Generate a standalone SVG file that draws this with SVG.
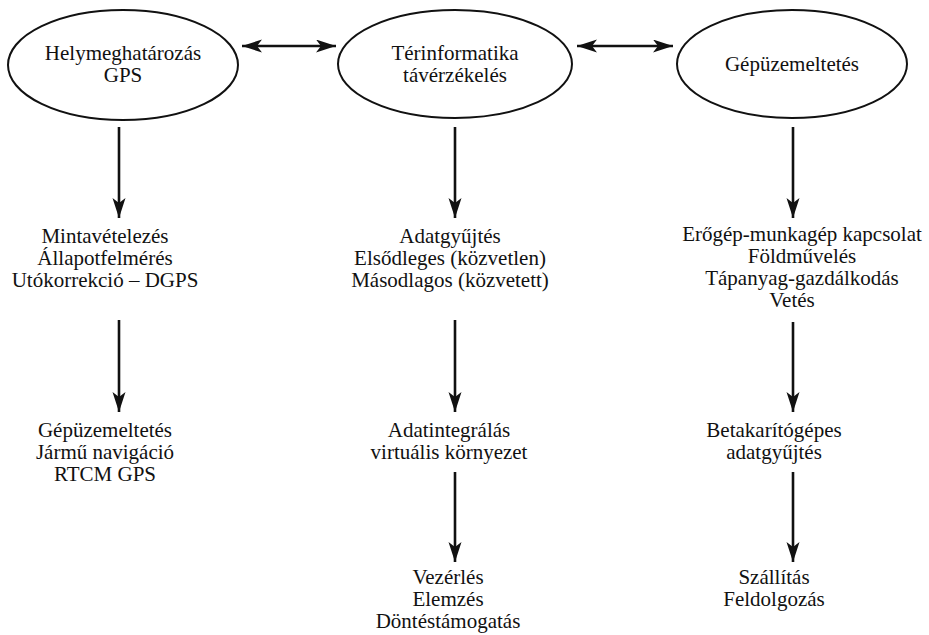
<svg xmlns="http://www.w3.org/2000/svg" width="929" height="635" viewBox="0 0 929 635">
<defs>
<style>
.n ellipse{fill:#fff;stroke:#111;stroke-width:2}
.t text{font-family:'Liberation Serif','DejaVu Serif','Times New Roman',Times,serif;font-size:21px;fill:#111;text-anchor:middle}
.c line{stroke:#111;stroke-width:2.6;fill:none}
</style>
<marker id="ah" markerUnits="userSpaceOnUse" markerWidth="22" markerHeight="14" refX="20" refY="6.5" orient="auto-start-reverse">
<path d="M0,0 L20,6.5 L0,13 L5,6.5 Z" fill="#111"/>
</marker>
</defs>
<rect width="929" height="635" fill="#fff"/>
<g class="c" id="connectors">
<line x1="242" y1="46" x2="336" y2="46" marker-start="url(#ah)" marker-end="url(#ah)"/>
<line x1="577" y1="46" x2="673" y2="46" marker-start="url(#ah)" marker-end="url(#ah)"/>
<line x1="119" y1="127" x2="119" y2="218" marker-end="url(#ah)"/>
<line x1="119" y1="320" x2="119" y2="412" marker-end="url(#ah)"/>
<line x1="455" y1="127" x2="455" y2="218" marker-end="url(#ah)"/>
<line x1="455" y1="320" x2="455" y2="412" marker-end="url(#ah)"/>
<line x1="455" y1="472" x2="455" y2="562" marker-end="url(#ah)"/>
<line x1="793" y1="127" x2="793" y2="218" marker-end="url(#ah)"/>
<line x1="793" y1="322" x2="793" y2="412" marker-end="url(#ah)"/>
<line x1="793" y1="472" x2="793" y2="562" marker-end="url(#ah)"/>
</g>
<g class="n t" id="n-helymeghatarozas">
<ellipse cx="123" cy="65" rx="115" ry="55"/>
<text x="123" y="60">Helymeghatározás</text>
<text x="123" y="82">GPS</text>
</g>
<g class="n t" id="n-terinformatika">
<ellipse cx="455" cy="64" rx="117" ry="54"/>
<text x="455" y="60">Térinformatika</text>
<text x="455" y="82">távérzékelés</text>
</g>
<g class="n t" id="n-gepuzemeltetes">
<ellipse cx="792" cy="64" rx="115" ry="54"/>
<text x="792" y="71">Gépüzemeltetés</text>
</g>
<g class="t" id="n-mintavetelezes">
<text x="105" y="243">Mintavételezés</text>
<text x="105" y="265">Állapotfelmérés</text>
<text x="105" y="287">Utókorrekció – DGPS</text>
</g>
<g class="t" id="n-gepuzemeltetes2">
<text x="105" y="437">Gépüzemeltetés</text>
<text x="105" y="459">Jármű navigáció</text>
<text x="105" y="481">RTCM GPS</text>
</g>
<g class="t" id="n-adatgyujtes">
<text x="450" y="243">Adatgyűjtés</text>
<text x="450" y="265">Elsődleges (közvetlen)</text>
<text x="450" y="287">Másodlagos (közvetett)</text>
</g>
<g class="t" id="n-adatintegralas">
<text x="449" y="437">Adatintegrálás</text>
<text x="449" y="459">virtuális környezet</text>
</g>
<g class="t" id="n-vezerles">
<text x="448" y="584">Vezérlés</text>
<text x="448" y="606">Elemzés</text>
<text x="448" y="628">Döntéstámogatás</text>
</g>
<g class="t" id="n-erogep">
<text x="802" y="241">Erőgép-munkagép kapcsolat</text>
<text x="802" y="263">Földművelés</text>
<text x="802" y="285">Tápanyag-gazdálkodás</text>
<text x="792" y="307">Vetés</text>
</g>
<g class="t" id="n-betakarito">
<text x="774" y="437">Betakarítógépes</text>
<text x="774" y="459">adatgyűjtés</text>
</g>
<g class="t" id="n-szallitas">
<text x="774" y="584">Szállítás</text>
<text x="774" y="606">Feldolgozás</text>
</g>
</svg>
